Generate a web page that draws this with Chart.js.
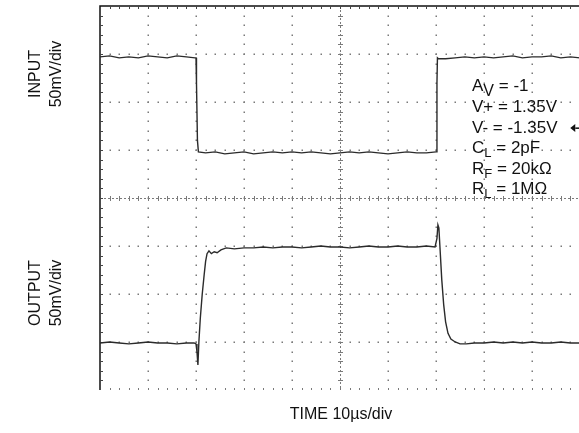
<!DOCTYPE html>
<html lang="en">
<head>
    <meta charset="UTF-8">
    <title>Inverting Amplifier Large Signal Response</title>
    <script src="https://cdn.jsdelivr.net/npm/chart.js"></script>
    <style>
        html, body {
            margin: 0;
            padding: 0;
            background: #fff;
            overflow: hidden;
        }
        #scope {
            display: block;
        }
    </style>
</head>
<body>
    <canvas id="scope" width="585" height="433"></canvas>

    <script>
        // time in microseconds, screen position in mV (50mV/div, 10us/div)
        const inputTime = [0, 2, 4, 6, 8, 10, 12, 14, 16, 18, 19.8, 20.0, 20.1, 20.3, 20.5, 22, 24, 26, 28, 30, 32, 34, 36, 38, 40, 42, 44, 46, 48, 50, 52, 54, 56, 58, 60, 62, 64, 66, 68, 70.0, 70.2, 70.3, 70.5, 72, 74, 76, 78, 80, 82, 84, 86, 88, 90, 92, 94, 96, 98, 100];
        const inputMv = [147, 148, 146, 147, 146, 148, 147, 146, 148, 147, 146, 146, 120, 60, 48, 47, 48, 46, 47, 48, 46, 47, 48, 47, 48, 47, 48, 47, 46, 47, 48, 47, 48, 47, 46, 47, 48, 47, 47, 48, 120, 146, 145, 145, 146, 147, 146, 147, 146, 147, 148, 146, 147, 147, 148, 146, 147, 146];

        const outputTime = [0, 2, 4, 6, 8, 10, 12, 14, 16, 18, 19.6, 20.0, 20.2, 20.4, 20.6, 20.9, 21.3, 21.7, 22.0, 22.3, 22.7, 23.2, 23.8, 24.4, 25.2, 26.3, 28, 30, 32, 34, 36, 38, 40, 42, 44, 46, 48, 50, 52, 54, 56, 58, 60, 62, 64, 66, 68, 69.8, 70.2, 70.4, 70.6, 70.8, 71.2, 71.6, 72.0, 72.5, 73.1, 74.0, 75.0, 76.3, 78, 80, 82, 84, 86, 88, 90, 92, 94, 96, 98, 100];
        const outputMv = [-151, -150, -151, -152, -151, -150, -151, -151, -152, -151, -151, -152, -160, -174, -150, -125, -100, -80, -66, -58, -55, -58, -56, -57, -54, -52, -53, -52, -52, -51, -52, -51, -51, -52, -51, -50, -51, -51, -52, -51, -50, -51, -51, -50, -51, -51, -50, -51, -42, -28, -31, -49, -85, -111, -129, -141, -147, -150, -152, -152, -151, -151, -150, -151, -150, -151, -150, -151, -151, -150, -151, -151];

        const timeDivs = [0, 10, 20, 30, 40, 50, 60, 70, 80, 90, 100];
        const levelDivs = [-200, -150, -100, -50, 0, 50, 100, 150, 200];

        const noteLines = [
            ['A', 'V', ' = -1'],
            ['V+ = 1.35V', '', ''],
            ['V- = -1.35V', '', ''],
            ['C', 'L', ' = 2pF'],
            ['R', 'F', ' = 20k\u03A9'],
            ['R', 'L', ' = 1M\u03A9']
        ];

        const FONT = '"Liberation Sans", Arial, sans-serif';
        const gridColor = '#7a7a7a';

        // scope graticule: dotted divisions, ticked centre lines, framed top and left
        const graticule = {
            id: 'graticule',
            beforeDatasetsDraw(chart) {
                const ctx = chart.ctx;
                const xs = chart.scales.x, ys = chart.scales.y;
                const { left, right, top, bottom } = chart.chartArea;
                ctx.save();
                ctx.fillStyle = gridColor;

                timeDivs.forEach(t => {
                    if (t === 0 || t === 50 || t === 100) return;
                    const px = Math.round(xs.getPixelForValue(t));
                    for (let v = -190; v < 200; v += 10) {
                        ctx.fillRect(px - 0.5, Math.round(ys.getPixelForValue(v)) - 0.5, 1.5, 1.5);
                    }
                });
                levelDivs.forEach(v => {
                    if (v === 0 || v === -200 || v === 200) return;
                    const py = Math.round(ys.getPixelForValue(v));
                    for (let t = 2; t < 100; t += 2) {
                        ctx.fillRect(Math.round(xs.getPixelForValue(t)) - 0.5, py - 0.5, 1.5, 1.5);
                    }
                });

                // centre cross
                const cx = Math.round(xs.getPixelForValue(50)) + 0.5;
                const cy = Math.round(ys.getPixelForValue(0)) + 0.5;
                ctx.strokeStyle = gridColor;
                ctx.lineWidth = 1;
                ctx.setLineDash([2, 2]);
                ctx.beginPath();
                ctx.moveTo(left, cy); ctx.lineTo(right, cy);
                ctx.moveTo(cx, top); ctx.lineTo(cx, bottom);
                ctx.stroke();
                ctx.setLineDash([]);
                ctx.beginPath();
                for (let t = 2; t < 100; t += 2) {
                    const px = Math.round(xs.getPixelForValue(t)) + 0.5;
                    ctx.moveTo(px, cy - 2.5); ctx.lineTo(px, cy + 2.5);
                }
                for (let v = -190; v < 200; v += 10) {
                    const py = Math.round(ys.getPixelForValue(v)) + 0.5;
                    ctx.moveTo(cx - 2.5, py); ctx.lineTo(cx + 2.5, py);
                }
                // bottom edge ticks
                for (let t = 2; t < 100; t += 2) {
                    const px = Math.round(xs.getPixelForValue(t)) + 0.5;
                    ctx.moveTo(px, bottom - 2); ctx.lineTo(px, bottom);
                }
                ctx.stroke();

                // frame with inward ticks
                ctx.strokeStyle = '#111';
                ctx.lineWidth = 1.5;
                ctx.beginPath();
                ctx.moveTo(left, bottom); ctx.lineTo(left, top); ctx.lineTo(right, top);
                ctx.stroke();
                ctx.lineWidth = 1;
                ctx.strokeStyle = '#444';
                ctx.beginPath();
                for (let t = 2; t < 100; t += 2) {
                    const px = Math.round(xs.getPixelForValue(t)) + 0.5;
                    ctx.moveTo(px, top); ctx.lineTo(px, top + 3);
                }
                for (let v = -190; v < 200; v += 10) {
                    const py = Math.round(ys.getPixelForValue(v)) + 0.5;
                    ctx.moveTo(left, py); ctx.lineTo(left + 3, py);
                }
                ctx.stroke();
                ctx.restore();
            },
            afterDraw(chart) {
                const ctx = chart.ctx;
                const xs = chart.scales.x, ys = chart.scales.y;
                const { left } = chart.chartArea;
                ctx.save();
                ctx.fillStyle = '#111';
                ctx.textBaseline = 'middle';

                // test conditions
                const nx = xs.getPixelForValue(77.5);
                let ny = ys.getPixelForValue(116);
                noteLines.forEach(([main, sub, rest]) => {
                    ctx.font = '17px ' + FONT;
                    ctx.textAlign = 'left';
                    ctx.fillText(main, nx, ny);
                    let x = nx + ctx.measureText(main).width;
                    if (sub) {
                        ctx.font = (sub === 'V' ? '16px ' : '13px ') + FONT;
                        ctx.fillText(sub, x, ny + 5);
                        x += ctx.measureText(sub).width;
                        ctx.font = '17px ' + FONT;
                        ctx.fillText(rest, x, ny);
                    }
                    ny += 20.6;
                });

                // trigger level marker
                const mx = xs.getPixelForValue(98.6), my = ys.getPixelForValue(73);
                ctx.beginPath();
                ctx.moveTo(mx - 3, my);
                ctx.lineTo(mx + 2, my - 4);
                ctx.lineTo(mx + 2, my + 4);
                ctx.closePath();
                ctx.fill();
                ctx.fillRect(mx + 2, my - 0.5, 4, 1.5);

                // channel labels
                ctx.font = '16px ' + FONT;
                ctx.textAlign = 'center';
                [['INPUT', 74], ['OUTPUT', 293]].forEach(([name, cy]) => {
                    ctx.save();
                    ctx.translate(36, cy);
                    ctx.rotate(-Math.PI / 2);
                    ctx.fillText(name, 0, 0);
                    ctx.fillText('50mV/div', 0, 21);
                    ctx.restore();
                });

                ctx.font = '16px ' + FONT;
                ctx.fillText('TIME 10\u00B5s/div', (left + 580) / 2 + 1, 415);
                ctx.restore();
            }
        };

        const toPoints = (ts, vs) => ts.map((t, i) => ({ x: t, y: vs[i] }));

        new Chart(document.getElementById('scope').getContext('2d'), {
            type: 'line',
            data: {
                datasets: [{
                    label: 'INPUT',
                    data: toPoints(inputTime, inputMv),
                    borderColor: '#2b2b2b',
                    borderWidth: 1.4,
                    pointRadius: 0,
                    tension: 0
                }, {
                    label: 'OUTPUT',
                    data: toPoints(outputTime, outputMv),
                    borderColor: '#2b2b2b',
                    borderWidth: 1.4,
                    pointRadius: 0,
                    tension: 0
                }]
            },
            options: {
                responsive: false,
                animation: false,
                devicePixelRatio: 1,
                layout: {
                    padding: { left: 100, top: 6, right: 5, bottom: 43 }
                },
                plugins: {
                    legend: { display: false },
                    tooltip: { enabled: false }
                },
                scales: {
                    x: { type: 'linear', min: 0, max: 100, display: false },
                    y: { type: 'linear', min: -200, max: 200, display: false }
                }
            },
            plugins: [graticule]
        });
    </script>
</body>
</html>
